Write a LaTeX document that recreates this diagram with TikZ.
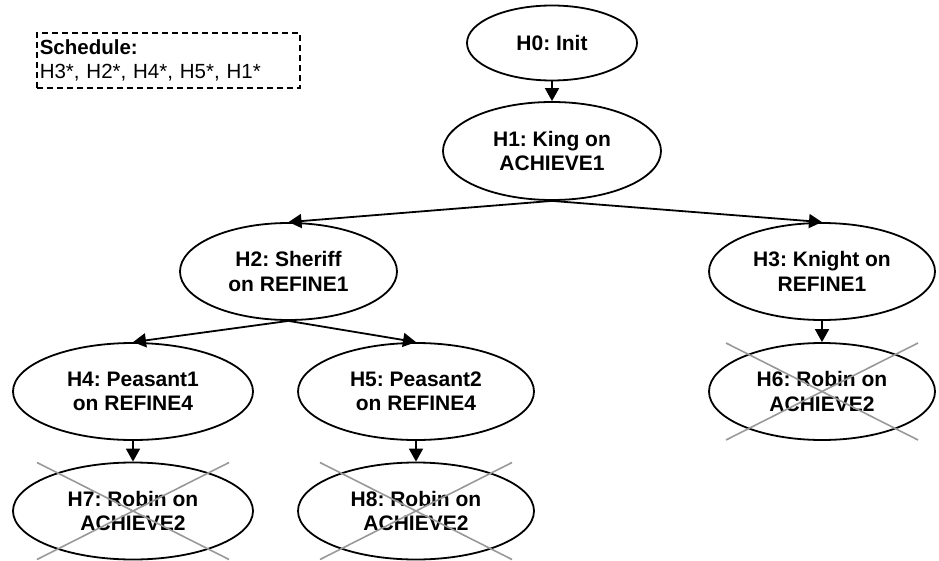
\documentclass[tikz,border=0pt]{standalone}
\usepackage{fontspec}
\setmainfont{Liberation Sans}
\usetikzlibrary{shapes.geometric,arrows.meta,calc}
\frenchspacing
\begin{document}
\begin{tikzpicture}[x=1pt,y=-1pt,
  goal/.style={ellipse,draw,line width=1.8pt,inner sep=0pt,align=center,
    minimum width=226pt,minimum height=97pt,
    font=\fontsize{21}{24.5}\selectfont\bfseries},
  link/.style={line width=1.8pt,-{Triangle[length=13pt,width=14pt]}},
  strike/.style={draw=black!40,line width=1.6pt},
  schedbox/.style={draw,line width=1.6pt,dash pattern=on 6pt off 4pt}]
\useasboundingbox (0,0) rectangle (939,561);

% schedule box
\node[schedbox,anchor=north west,minimum width=263pt,minimum height=55pt,
  inner sep=3pt,text width=257pt,align=left,
  font=\fontsize{20.5}{24.5}\selectfont] (sched) at (36,32)
  {\textbf{Schedule:}\\H3*, H2*, H4*, H5*, H1*};

% hierarchy of goals
\node[goal,minimum width=170pt,minimum height=75pt] (h0) at (552,43) {H0: Init};
\node[goal,minimum width=218pt,minimum height=98pt] (h1) at (552,151) {H1: King on\\ACHIEVE1};
\node[goal,minimum width=217pt] (h2) at (288.5,271.5) {H2: Sheriff\\on REFINE1};
\node[goal] (h3) at (822,271.5) {H3: Knight on\\REFINE1};
\node[goal,minimum width=240pt] (h4) at (133,391.5) {H4: Peasant1\\on REFINE4};
\node[goal,minimum width=236pt] (h5) at (416,391.5) {H5: Peasant2\\on REFINE4};
\node[goal] (h6) at (822,391.5) {H6: Robin on\\ACHIEVE2};
\node[goal,minimum width=240pt] (h7) at (133,511) {H7: Robin on\\ACHIEVE2};
\node[goal,minimum width=236pt] (h8) at (416,511) {H8: Robin on\\ACHIEVE2};

% connectors
\draw[link] (h0.south) -- (h1.north);
\draw[link] (h1.south) -- (h2.north);
\draw[link] (h1.south) -- (h3.north);
\draw[link] (h2.south) -- (h4.north);
\draw[link] (h2.south) -- (h5.north);
\draw[link] (h3.south) -- (h6.north);
\draw[link] (h4.south) -- (h7.north);
\draw[link] (h5.south) -- (h8.north);

% struck-out goals
\foreach \g in {h6,h7,h8} {
  \draw[strike] ($(\g.center)+(-96,-48.5)$) -- ($(\g.center)+(96,48.5)$);
  \draw[strike] ($(\g.center)+(-96,48.5)$) -- ($(\g.center)+(96,-48.5)$);
}
\end{tikzpicture}
\end{document}
